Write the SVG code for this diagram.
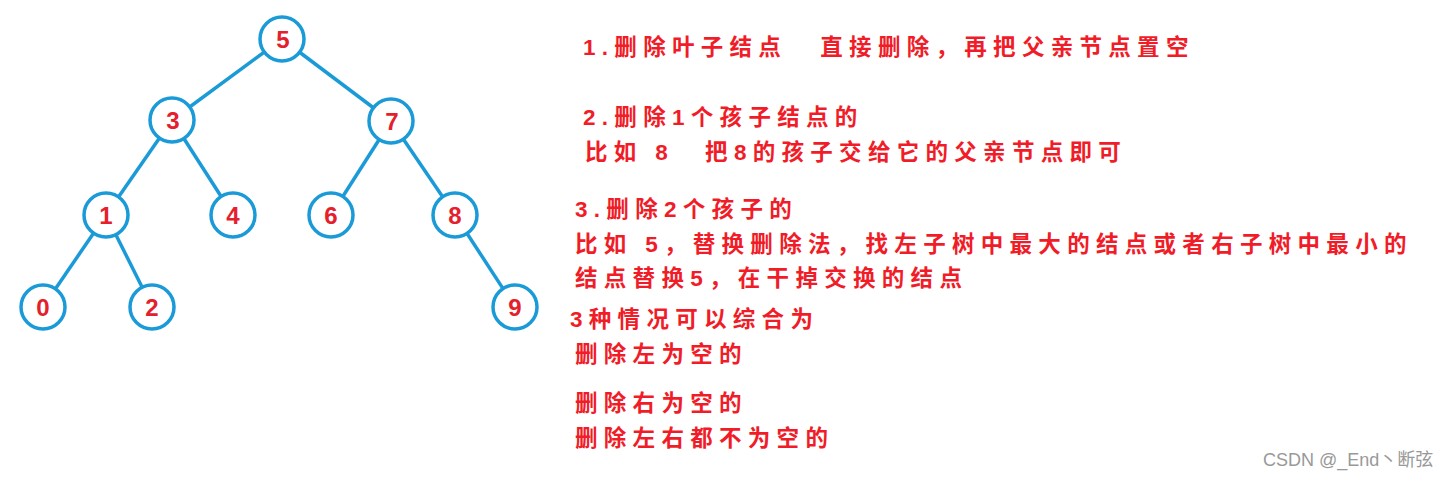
<svg xmlns="http://www.w3.org/2000/svg" width="1453" height="478" viewBox="0 0 1453 478">
<style>
.n circle{fill:#fff;stroke:#1b9ad8;stroke-width:3.5}
.n text{font-family:"Liberation Sans",Arial,sans-serif;font-weight:bold;font-size:24px;fill:#e3202b;text-anchor:middle}
.e line{stroke:#1b9ad8;stroke-width:3.5}
.t{font-family:"Liberation Sans","Noto Sans CJK SC",sans-serif;font-weight:bold;font-size:22.5px;fill:#f01c28;letter-spacing:6.3px}
.w{font-family:"Liberation Sans","Noto Sans CJK SC",sans-serif;font-size:18px;fill:#999}
</style>
<rect width="1453" height="478" fill="#fff"/>
<g id="connectors" class="e">
<line x1="282" y1="39" x2="172" y2="120"/>
<line x1="282" y1="39" x2="391" y2="121"/>
<line x1="172" y1="120" x2="106" y2="215"/>
<line x1="172" y1="120" x2="233" y2="215"/>
<line x1="391" y1="121" x2="331" y2="215"/>
<line x1="391" y1="121" x2="455" y2="215"/>
<line x1="106" y1="215" x2="43" y2="307"/>
<line x1="106" y1="215" x2="152" y2="307"/>
<line x1="455" y1="215" x2="515" y2="307"/>
</g>
<g id="n5" class="n"><circle cx="282" cy="39" r="22"/><text x="283" y="48">5</text></g>
<g id="n3" class="n"><circle cx="172" cy="120" r="22"/><text x="173" y="129">3</text></g>
<g id="n7" class="n"><circle cx="391" cy="121" r="22"/><text x="392" y="130">7</text></g>
<g id="n1" class="n"><circle cx="106" cy="215" r="22"/><text x="106" y="224">1</text></g>
<g id="n4" class="n"><circle cx="233" cy="215" r="22"/><text x="233" y="224">4</text></g>
<g id="n6" class="n"><circle cx="331" cy="215" r="22"/><text x="331" y="224">6</text></g>
<g id="n8" class="n"><circle cx="455" cy="215" r="22"/><text x="455" y="224">8</text></g>
<g id="n0" class="n"><circle cx="43" cy="307" r="22"/><text x="43" y="316">0</text></g>
<g id="n2" class="n"><circle cx="152" cy="307" r="22"/><text x="152" y="316">2</text></g>
<g id="n9" class="n"><circle cx="515" cy="307" r="22"/><text x="515" y="316">9</text></g>
<g id="notes">
<text class="t" x="583" y="55" xml:space="preserve">1.删除叶子结点  <tspan dx="8">直接删除，再把父亲节点置空</tspan></text>
<text class="t" x="583" y="125">2.删除1个孩子结点的</text>
<text class="t" x="585" y="160" xml:space="preserve">比如 8  <tspan dx="6">把8的孩子交给它的父亲节点即可</tspan></text>
<text class="t" x="575" y="217">3.删除2个孩子的</text>
<text class="t" x="575" y="252">比如 5，替换删除法，找左子树中最大的结点或者右子树中最小的</text>
<text class="t" x="575" y="286">结点替换5，在干掉交换的结点</text>
<text class="t" x="570" y="327">3种情况可以综合为</text>
<text class="t" x="575" y="362">删除左为空的</text>
<text class="t" x="575" y="411">删除右为空的</text>
<text class="t" x="575" y="446">删除左右都不为空的</text>
<text class="w" x="1263" y="466">CSDN @_End丶断弦</text>
</g>
</svg>
